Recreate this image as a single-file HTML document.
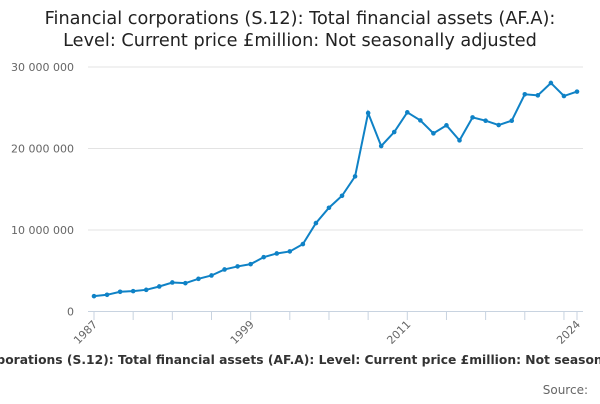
<!DOCTYPE html>
<html><head><meta charset="utf-8"><style>
body{margin:0;width:600px;height:400px;overflow:hidden;background:#fff;font-family:"DejaVu Sans","Liberation Sans",sans-serif;}
</style></head><body>
<svg width="600" height="400" id="c">
<text x="300" y="24" text-anchor="middle" font-size="17.7" fill="#222">Financial corporations (S.12): Total financial assets (AF.A):</text>
<text x="300" y="46" text-anchor="middle" font-size="17.7" fill="#222">Level: Current price £million: Not seasonally adjusted</text>
<g id="grid"></g><g id="xax"></g><g id="series"></g>
<text x="300" y="364" text-anchor="middle" font-size="12.3" font-weight="bold" fill="#333">Financial corporations (S.12): Total financial assets (AF.A): Level: Current price £million: Not seasonally adjusted</text>
<text x="588" y="394" text-anchor="end" font-size="12" fill="#666">Source:</text>
</svg>
<script>
const years=[1987,1988,1989,1990,1991,1992,1993,1994,1995,1996,1997,1998,1999,2000,2001,2002,2003,2004,2005,2006,2007,2008,2009,2010,2011,2012,2013,2014,2015,2016,2017,2018,2019,2020,2021,2022,2023,2024];
const values=[1.88,2.05,2.42,2.5,2.66,3.07,3.56,3.48,4.01,4.42,5.16,5.53,5.81,6.67,7.12,7.37,8.27,10.85,12.73,14.2,16.58,24.36,20.3,22.02,24.44,23.45,21.86,22.84,21.0,23.82,23.41,22.88,23.41,26.65,26.52,28.04,26.44,26.98].map(v=>v*1e6);
const yTicks=[0,10e6,20e6,30e6];
const yTickLabels=["0","10 000 000","20 000 000","30 000 000"];
const xLabels=[1987,1999,2011,2024];
const NS="http://www.w3.org/2000/svg";
const X=y=>94+(y-1987)*(577-94)/(2024-1987);
const Y=v=>311.5-v*(311.5-67)/30e6;
function mk(t,a,p){const e=document.createElementNS(NS,t);for(const k in a)e.setAttribute(k,a[k]);p.appendChild(e);return e;}
const g=document.getElementById('grid');
yTicks.forEach((t,i)=>{
 const l=mk('line',{x1:88,x2:583,y1:Y(t),y2:Y(t),stroke:i==0?'#c8d3e0':'#e3e3e3','stroke-width':1},g);
 
 
 const tx=mk('text',{x:74,y:Y(t)+4,'text-anchor':'end','font-size':11,fill:'#666'},g);
 tx.textContent=yTickLabels[i];
 
 
});
const xa=document.getElementById('xax');
for(let y=1987;y<=2024;y+=3){
 const l=mk('line',{x1:X(y),x2:X(y),y1:312,y2:320,stroke:'#c8d3e0'},xa);
 
 
}
mk('line',{x1:X(2024),x2:X(2024),y1:312,y2:320,stroke:'#c8d3e0'},xa);
xLabels.forEach(y=>{
 const t=mk('text',{x:X(y)+4,y:325,'text-anchor':'end','font-size':11,fill:'#666',transform:`rotate(-45 ${X(y)+4} 325)`},xa);
 t.textContent=y;
 
 
});
const s=document.getElementById('series');
const line=mk('polyline',{points:years.map((y,i)=>X(y)+','+Y(values[i])).join(' '),fill:'none',stroke:'#0f82c6','stroke-width':2},s);


years.forEach((y,i)=>{
 const c=mk('circle',{cx:X(y),cy:Y(values[i]),r:2.3,fill:'#0f82c6'},s);
 
 
});
</script>
</body></html>
